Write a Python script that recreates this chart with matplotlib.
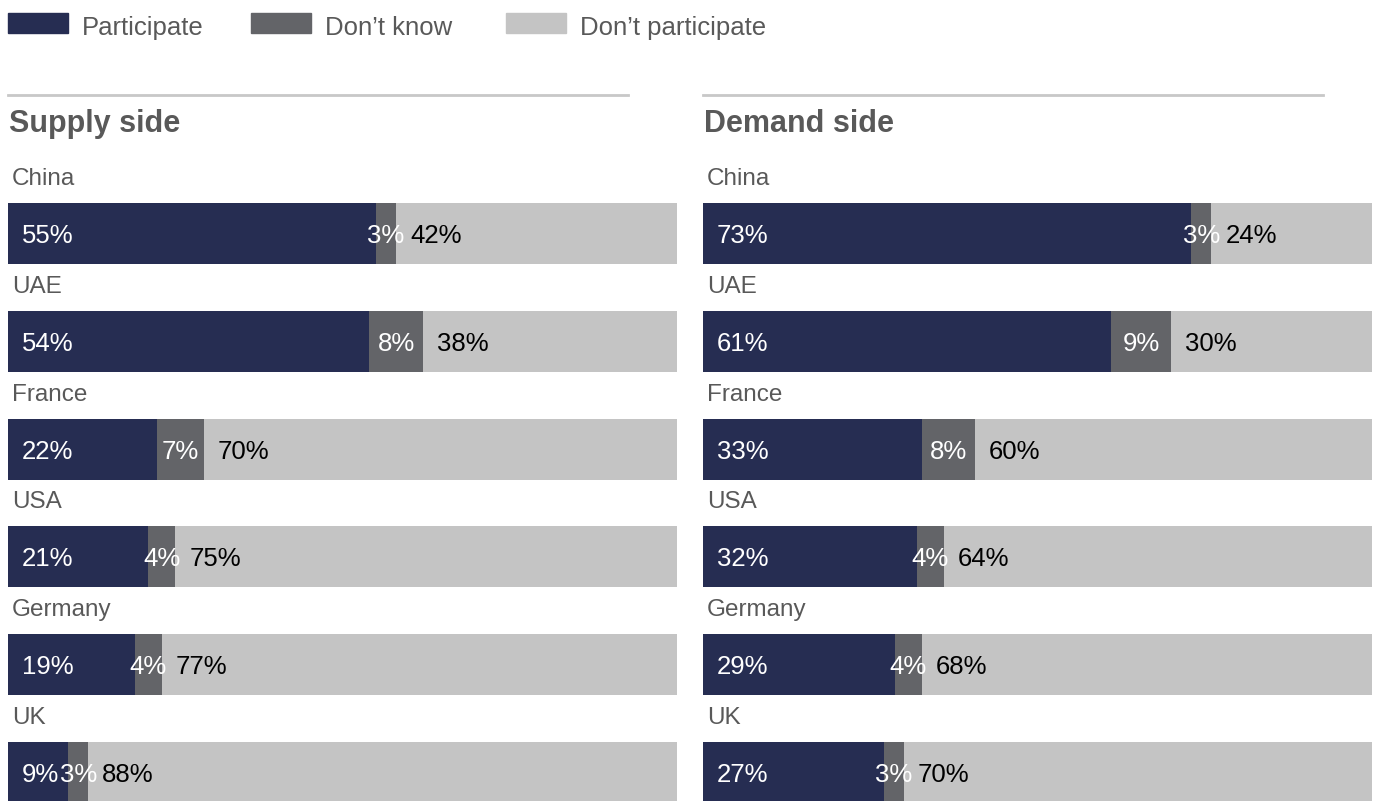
import numpy as np
import matplotlib.pyplot as plt

plt.rcParams['font.family'] = ['Liberation Sans', 'DejaVu Sans']

countries = ['China', 'UAE', 'France', 'USA', 'Germany', 'UK']
supply_part = [55, 54, 22, 21, 19, 9]
supply_dk = [3, 8, 7, 4, 4, 3]
supply_not = [42, 38, 70, 75, 77, 88]
demand_part = [73, 61, 33, 32, 29, 27]
demand_dk = [3, 9, 8, 4, 4, 3]
demand_not = [24, 30, 60, 64, 68, 70]

series = ['Participate', 'Don\u2019t know', 'Don\u2019t participate']
colors = ['#262d52', '#636468', '#c4c4c4']
label_colors = ['white', 'white', 'black']
grey_txt = '#595959'

W, H = 1378, 801
fig = plt.figure(figsize=(W / 100, H / 100), dpi=100)


def fx(px):
    return px / W


def fy(py):
    return 1 - py / H


# legend
for name, col, x0 in zip(series, colors, [8, 251, 506]):
    fig.patches.append(plt.Rectangle((fx(x0), fy(33)), fx(60), 20 / H,
                                     transform=fig.transFigure, color=col))
    fig.text(fx(x0 + 74), fy(28), name, fontsize=18.5, color=grey_txt, va='center')


def panel(x0, title, part, dk, nope):
    bar_w = 669
    ax = fig.add_axes([fx(x0), 0, fx(bar_w), 1])
    ax.set_xlim(0, 1)
    ax.set_ylim(H, 0)
    ax.axis('off')

    # header line and title
    fig.add_artist(plt.Line2D([fx(x0), fx(x0 + 620)], [fy(95), fy(95)],
                              color='#c8c8c8', lw=2, transform=fig.transFigure))
    fig.text(fx(x0 + 1), fy(124), title, fontsize=22, fontweight='bold',
             color=grey_txt, va='center')

    data = np.array([part, dk, nope], dtype=float)
    frac = data / data.sum(axis=0)
    tops = 203 + np.arange(len(countries)) * 107.8
    centers = tops + 30.5
    left = np.zeros(len(countries))
    pad = 14 / bar_w
    for k in range(3):
        ax.barh(centers, frac[k], left=left, height=61, color=colors[k])
        for i in range(len(countries)):
            txt = f'{int(data[k, i])}%'
            if k == 1:
                ax.text(left[i] + frac[k, i] / 2, centers[i] + 2.5, txt, ha='center',
                        va='center', fontsize=18.5, color=label_colors[k])
            else:
                ax.text(left[i] + pad, centers[i] + 2.5, txt, ha='left',
                        va='center', fontsize=18.5, color=label_colors[k])
        left += frac[k]

    for i, c in enumerate(countries):
        ax.text(4 / bar_w, tops[i] - 24, c, fontsize=17.5, color=grey_txt, va='center')


panel(8, 'Supply side', supply_part, supply_dk, supply_not)
panel(703, 'Demand side', demand_part, demand_dk, demand_not)

fig.savefig('out.png', dpi=100)
